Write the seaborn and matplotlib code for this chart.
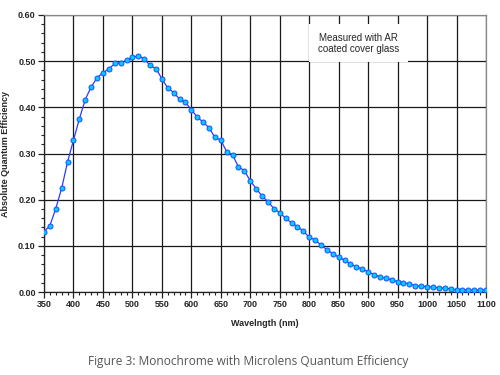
import matplotlib
matplotlib.use("Agg")
import matplotlib.pyplot as plt
import numpy as np
import pandas as pd
import seaborn as sns
from matplotlib.ticker import MultipleLocator, FormatStrFormatter

# wavelength in nm, one point every 10 nm
wavelength = list(range(350, 1101, 10))
qe = [
    0.131, 0.144, 0.181, 0.225, 0.282, 0.329, 0.375, 0.417, 0.444, 0.464,
    0.475, 0.483, 0.495, 0.496, 0.502, 0.508, 0.512, 0.505, 0.491, 0.484,
    0.462, 0.442, 0.432, 0.418, 0.411, 0.395, 0.379, 0.368, 0.356, 0.335,
    0.329, 0.304, 0.297, 0.271, 0.263, 0.241, 0.224, 0.208, 0.196, 0.181,
    0.172, 0.160, 0.150, 0.142, 0.132, 0.119, 0.113, 0.102, 0.092, 0.083,
    0.076, 0.069, 0.061, 0.055, 0.050, 0.044, 0.038, 0.033, 0.030, 0.027,
    0.023, 0.020, 0.018, 0.014, 0.013, 0.012, 0.011, 0.009, 0.009, 0.007,
    0.005, 0.005, 0.005, 0.004, 0.004, 0.005,
]
note = "Measured with AR\ncoated cover glass"
caption = "Figure 3: Monochrome with Microlens Quantum Efficiency"

df = pd.DataFrame({"wavelength": wavelength, "qe": qe})

sns.set_style("white")
plt.rcParams["font.family"] = ["Liberation Sans", "DejaVu Sans"]

fig = plt.figure(figsize=(5, 3.75), dpi=100)
ax = fig.add_axes([0.088, 0.221, 0.884, 0.739])

sns.lineplot(
    data=df, x="wavelength", y="qe", ax=ax,
    color="#2a3cff", linewidth=0.9, marker="o", markersize=3.6,
    markerfacecolor="#00ccff", markeredgecolor="#1f4cff", markeredgewidth=0.7,
    zorder=4,
)

ax.set_xlim(350, 1100)
ax.set_ylim(0, 0.6)
ax.xaxis.set_major_locator(MultipleLocator(50))
ax.xaxis.set_minor_locator(MultipleLocator(10))
ax.yaxis.set_major_locator(MultipleLocator(0.1))
ax.yaxis.set_minor_locator(MultipleLocator(0.02))
ax.yaxis.set_major_formatter(FormatStrFormatter("%.2f"))
ax.grid(True, which="major", color="#1a1a1a", linewidth=0.9)
ax.tick_params(which="major", direction="out", length=4, width=0.9,
               labelsize=6.5, pad=2, color="#222")
ax.tick_params(which="minor", direction="out", length=2, width=0.8,
               color="#222")
ax.tick_params(axis="both", which="both", bottom=True, left=True)
for lab in ax.get_xticklabels() + ax.get_yticklabels():
    lab.set_fontweight("bold")

for side in ["left", "bottom"]:
    ax.spines[side].set_color("#222")
    ax.spines[side].set_linewidth(0.9)
for side in ["top", "right"]:
    ax.spines[side].set_color("#888")
    ax.spines[side].set_linewidth(0.9)

ax.set_xlabel("Wavelngth (nm)", fontsize=6.5, fontweight="bold", labelpad=7)
ax.set_ylabel("Absolute Quantum Efficiency", fontsize=6.5, fontweight="bold")
ax.yaxis.set_label_coords(-0.078, 0.5)

ax.text(884, 0.539, note, fontsize=7, ha="center", va="center",
        linespacing=1.1, zorder=5,
        bbox=dict(boxstyle="square,pad=0.9", facecolor="white",
                  edgecolor="none"))

fig.text(0.496, 0.035, caption, ha="center", va="center", fontsize=8.6,
         color="#555555", family=["Open Sans", "DejaVu Sans"])

fig.savefig("out.png", dpi=100)
